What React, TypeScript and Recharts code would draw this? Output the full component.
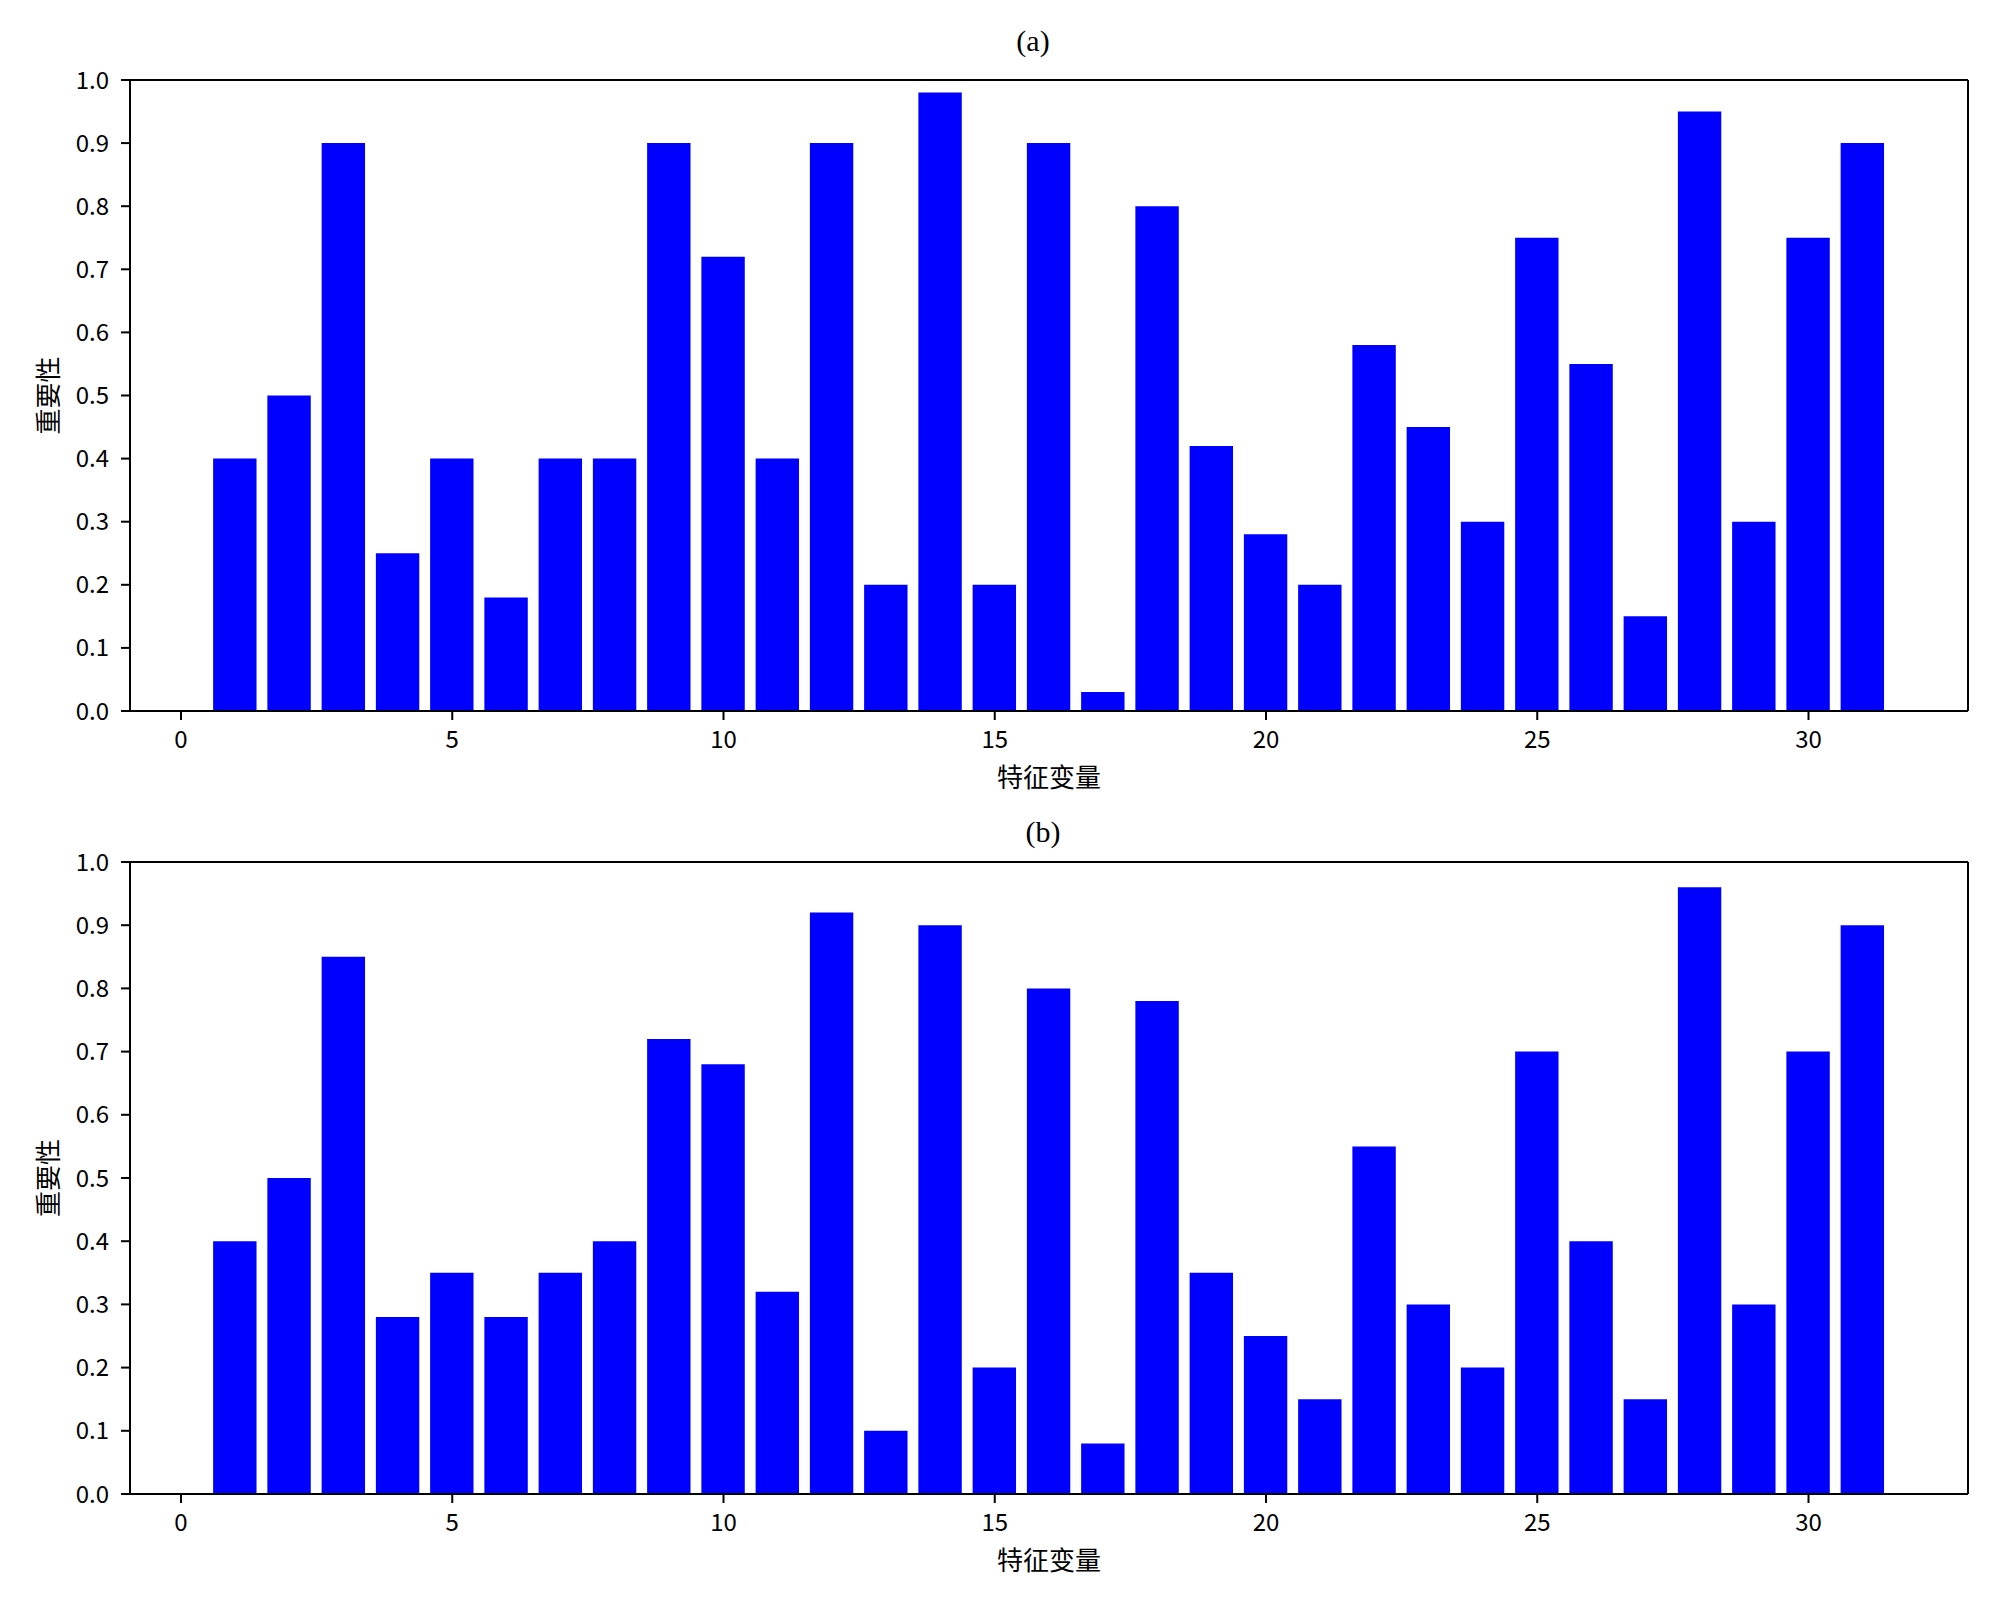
import React from 'react';
import { BarChart, Bar, XAxis, YAxis, ReferenceLine } from 'recharts';

// feature index 1..31
const featureIds = [1, 2, 3, 4, 5, 6, 7, 8, 9, 10, 11, 12, 13, 14, 15, 16, 17, 18, 19, 20, 21, 22, 23, 24, 25, 26, 27, 28, 29, 30, 31];

const importanceA = [0.40, 0.50, 0.90, 0.25, 0.40, 0.18, 0.40, 0.40, 0.90, 0.72, 0.40, 0.90, 0.20, 0.98, 0.20, 0.90, 0.03, 0.80, 0.42, 0.28, 0.20, 0.58, 0.45, 0.30, 0.75, 0.55, 0.15, 0.95, 0.30, 0.75, 0.90];
const importanceB = [0.40, 0.50, 0.85, 0.28, 0.35, 0.28, 0.35, 0.40, 0.72, 0.68, 0.32, 0.92, 0.10, 0.90, 0.20, 0.80, 0.08, 0.78, 0.35, 0.25, 0.15, 0.55, 0.30, 0.20, 0.70, 0.40, 0.15, 0.96, 0.30, 0.70, 0.90];

const xTicks = [0, 5, 10, 15, 20, 25, 30];
const yTicks = [0, 0.1, 0.2, 0.3, 0.4, 0.5, 0.6, 0.7, 0.8, 0.9, 1.0];

const panels = [
  { title: '(a)', values: importanceA },
  { title: '(b)', values: importanceB },
];

const xMin = -0.94;
const xMax = 32.94;
const plotLeft = 130;
const plotRight = 32;
const plotWidth = 2000 - plotLeft - plotRight;
const barSize = (0.8 * plotWidth) / (xMax - xMin);

const tickFont = { fill: '#000', fontSize: 24, fontFamily: '"Noto Sans CJK SC", "Noto Sans", sans-serif' };
const axisStroke = { stroke: '#000', strokeWidth: 2 };

const XLabel = (props: any) => {
  const vb = props.viewBox;
  return (
    <text x={vb.x + vb.width / 2} y={vb.y + 76} textAnchor="middle" fontSize={26} fill="#000"
      fontFamily='"Noto Sans CJK SC", sans-serif'>特征变量</text>
  );
};

const YLabel = (props: any) => {
  const vb = props.viewBox;
  const cx = 46;
  const cy = vb.y + vb.height / 2;
  return (
    <text x={cx} y={cy} textAnchor="middle" dominantBaseline="central" fontSize={26} fill="#000"
      fontFamily='"Noto Sans CJK SC", sans-serif' transform={`rotate(-90, ${cx}, ${cy})`}>重要性</text>
  );
};

const Panel = ({ values, top, height, marginTop, axisHeight }: any) => {
  const data = featureIds.map((id, i) => ({ id, value: values[i] }));
  return (
    <div style={{ position: 'absolute', left: 0, top, width: 2000, height }}>
      <BarChart width={2000} height={height} data={data}
        margin={{ top: marginTop, right: plotRight, left: 0, bottom: 0 }}>
        <XAxis dataKey="id" type="number" domain={[xMin, xMax]} allowDataOverflow ticks={xTicks}
          height={axisHeight} tick={tickFont} tickSize={9} tickMargin={11}
          axisLine={axisStroke} tickLine={axisStroke} label={<XLabel />} />
        <YAxis type="number" domain={[0, 1]} ticks={yTicks} width={plotLeft}
          tick={tickFont} tickSize={9} tickMargin={12} tickFormatter={(v: number) => v.toFixed(1)}
          axisLine={axisStroke} tickLine={axisStroke} label={<YLabel />} />
        <ReferenceLine y={1} stroke="#000" strokeWidth={2} />
        <ReferenceLine x={xMax} stroke="#000" strokeWidth={2} />
        <Bar dataKey="value" fill="#0000ff" barSize={barSize} isAnimationActive={false} />
      </BarChart>
    </div>
  );
};

const titleStyle: React.CSSProperties = {
  position: 'absolute', width: 2000, left: 0, textAlign: 'center',
  fontFamily: '"Liberation Serif", "Times New Roman", serif', fontSize: 30, color: '#000', lineHeight: '40px',
};

export default function App() {
  return (
    <div style={{ position: 'absolute', left: 0, top: 0, width: 2000, height: 1609, background: '#fff' }}>
      <Panel values={panels[0].values} top={0} height={800} marginTop={80} axisHeight={89} />
      <Panel values={panels[1].values} top={800} height={809} marginTop={62} axisHeight={115} />
      <div style={{ ...titleStyle, top: 21, marginLeft: 33 }}>{panels[0].title}</div>
      <div style={{ ...titleStyle, top: 812, marginLeft: 43 }}>{panels[1].title}</div>
    </div>
  );
}
